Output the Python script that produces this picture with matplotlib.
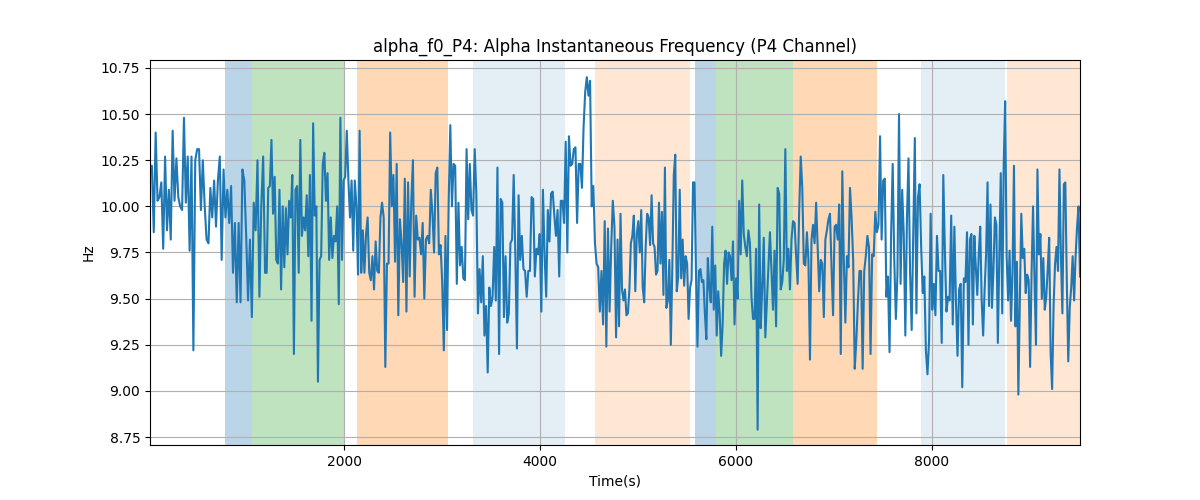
import numpy as np
import matplotlib
matplotlib.use("Agg")
import matplotlib.pyplot as plt

# === DATA ===
# time windows the readings were taken in (s); samples are evenly spaced inside each
seg_bounds = [20, 1194, 2388, 3582, 4776, 5969, 7163, 8357, 9510]

hz_a = [10.22, 10.22, 9.86, 10.40, 10.03, 10.05, 10.13, 9.77, 10.27, 9.87, 10.09, 9.82,
        10.41, 10.03, 10.26, 10.05, 10.00, 9.98, 10.48, 10.02, 10.27, 9.76, 10.27, 9.22,
        10.25, 10.31, 10.31, 9.98, 10.25, 10.00, 9.82, 9.80, 10.10, 9.94, 10.14, 9.89,
        10.14, 10.27, 9.71, 10.20, 9.94, 10.09, 9.91, 10.11, 9.64, 9.91, 9.48, 9.91,
        9.48, 10.20, 10.14, 9.84, 9.49, 9.82, 9.40, 10.02, 9.87, 10.25, 9.51, 10.00,
        10.27, 9.64]
hz_b = [9.64, 10.10, 10.11, 10.36, 9.96, 10.16, 9.71, 9.69, 10.09, 9.55, 10.00, 9.67,
        9.99, 9.74, 10.03, 9.94, 10.17, 9.20, 10.09, 10.11, 9.64, 10.36, 9.84, 9.94,
        9.87, 10.06, 9.73, 10.17, 9.38, 10.45, 9.95, 10.00, 9.05, 9.71, 9.73, 10.23,
        10.29, 10.03, 10.18, 9.71, 9.94, 9.72, 9.84, 9.81, 10.00, 9.47, 10.48, 9.71,
        10.14, 10.16, 10.41, 10.14, 9.94, 10.14, 9.76, 10.14, 10.00, 9.63, 10.41, 9.64,
        9.87, 9.64, 9.85, 9.94, 9.64, 9.60, 9.73, 9.55, 9.81, 9.65, 9.64, 9.94, 10.02]
hz_c = [9.94, 9.13, 9.69, 9.69, 10.40, 10.00, 10.17, 9.70, 10.23, 9.41, 9.93, 9.80,
        9.59, 10.15, 9.43, 10.13, 9.62, 10.03, 10.25, 9.51, 9.95, 9.82, 9.83, 9.74,
        9.91, 9.50, 9.82, 9.84, 9.80, 10.09, 9.96, 9.75, 10.18, 10.21, 9.74, 9.79,
        9.59, 9.22, 9.84, 9.33, 10.03, 10.44, 10.00, 10.23, 10.22, 9.58, 10.02, 9.68,
        9.78, 9.61, 9.60, 10.31, 9.93, 10.23, 9.98, 9.95, 10.31, 10.07, 9.42, 9.66,
        9.48, 9.73, 9.30, 9.46, 9.10, 9.56, 9.46, 9.51, 9.78, 9.49, 10.21, 9.20]
hz_d = [10.04, 10.02, 9.40, 9.73, 9.37, 9.42, 9.80, 9.82, 10.17, 9.74, 9.23, 10.06,
        9.71, 9.84, 9.66, 9.65, 9.51, 9.65, 9.65, 10.05, 10.04, 9.62, 9.77, 9.74,
        9.85, 9.43, 10.09, 9.74, 9.51, 9.98, 9.81, 10.07, 10.08, 9.95, 9.84, 9.98,
        9.62, 10.03, 10.03, 9.91, 10.35, 9.75, 10.38, 10.22, 10.23, 10.31, 10.32, 9.91,
        10.23, 10.23, 10.10, 10.43, 10.62, 10.70, 10.60, 10.68, 10.00, 10.11, 9.80, 9.69,
        9.67, 9.43, 9.65, 9.36, 9.92, 9.24, 9.88, 9.43, 9.78, 10.03, 9.89, 9.29]
hz_e = [9.82, 9.35, 9.96, 9.55, 9.49, 9.55, 9.41, 9.42, 9.55, 9.80, 9.84, 9.95,
        9.54, 9.85, 9.92, 9.75, 9.98, 9.56, 9.48, 9.78, 9.96, 9.94, 9.79, 10.06,
        9.80, 9.78, 9.63, 9.65, 10.02, 9.69, 9.97, 9.52, 10.21, 9.45, 9.49, 9.71,
        9.25, 9.67, 10.17, 10.28, 9.54, 9.62, 10.09, 9.61, 9.82, 9.57, 9.73, 9.69,
        9.39, 9.56, 9.60, 10.13, 10.13, 9.64, 9.24, 9.65, 9.66, 9.59, 9.60, 9.42,
        9.28, 9.72, 9.56, 9.48, 9.89, 9.44, 9.68, 9.30, 9.54, 9.42, 9.19, 9.36,
        9.69, 9.76, 9.58, 9.75, 9.73, 9.60, 9.81]
hz_f = [9.36, 9.61, 9.50, 10.03, 9.74, 10.14, 9.85, 9.78, 9.73, 9.87, 9.80, 9.51,
        9.39, 9.39, 9.77, 8.79, 10.01, 9.34, 9.56, 9.83, 9.29, 9.48, 9.67, 9.86,
        9.65, 9.44, 9.76, 9.35, 10.10, 10.07, 9.55, 9.59, 9.71, 10.31, 9.65, 9.77,
        9.55, 9.82, 9.92, 9.91, 9.73, 9.58, 9.98, 10.27, 10.10, 9.69, 9.68, 9.86,
        9.71, 9.17, 9.82, 9.90, 9.80, 10.02, 9.78, 9.54, 9.71, 9.69, 9.40, 9.82,
        9.87, 9.93, 9.96, 9.67, 9.41, 9.89, 9.90, 9.82, 10.01, 9.20, 10.19, 9.70,
        9.37, 9.73, 9.67, 10.10]
hz_g = [9.94, 9.71, 9.12, 9.27, 9.48, 9.65, 9.65, 9.12, 9.65, 9.73, 9.84, 9.78,
        9.20, 9.74, 9.73, 9.97, 9.86, 9.90, 10.38, 9.82, 10.14, 10.15, 9.51, 9.62,
        9.21, 9.85, 10.23, 9.71, 9.39, 9.63, 10.50, 9.58, 10.09, 9.85, 9.30, 9.93,
        10.26, 9.64, 9.33, 9.85, 10.37, 9.42, 10.05, 10.12, 9.78, 9.53, 9.62, 9.22,
        9.09, 9.27, 9.96, 9.44, 9.58, 9.41, 9.84, 9.65, 9.65, 9.26, 10.17, 9.76,
        9.43, 9.51, 9.49, 9.95, 9.36, 9.89, 9.49, 9.19, 9.55, 9.58, 9.02, 9.61,
        9.59, 9.86]
hz_h = [9.25, 9.82, 9.85, 9.36, 9.84, 9.67, 9.52, 9.74, 9.89, 9.49, 9.30, 9.55,
        9.74, 10.13, 9.46, 10.01, 9.45, 9.65, 9.94, 9.90, 9.26, 9.71, 10.18, 9.42,
        10.22, 10.57, 9.73, 9.49, 9.76, 9.38, 9.64, 10.22, 9.35, 9.70, 8.98, 9.49,
        9.96, 9.72, 9.77, 9.53, 9.63, 9.60, 9.13, 9.64, 10.00, 9.60, 9.25, 10.20,
        9.74, 9.85, 9.50, 9.72, 9.44, 9.51, 9.66, 9.83, 9.20, 9.01, 9.46, 9.69,
        9.78, 9.65, 10.20, 9.73, 9.42, 10.12, 10.13, 9.60, 9.16, 9.45, 9.56, 9.73,
        9.49, 9.73, 9.89, 10.00, 9.62]

# marked intervals (s) and their kind
span_start = [786, 1058, 2133, 3319, 4561, 5582, 5793, 6582, 7888, 8762]
span_end = [1058, 2003, 3058, 4255, 5531, 5793, 6582, 7436, 8748, 9600]
span_kind = ["A", "B", "C", "D", "E", "A", "B", "C", "D", "E"]

span_style = {
    "A": ("tab:blue", 0.3),
    "B": ("tab:green", 0.3),
    "C": ("tab:orange", 0.3),
    "D": ("tab:blue", 0.12),
    "E": ("tab:orange", 0.18),
}

# === BUILD SERIES ===
segments = [hz_a, hz_b, hz_c, hz_d, hz_e, hz_f, hz_g, hz_h]
times = []
for i, seg in enumerate(segments):
    b0, b1 = seg_bounds[i], seg_bounds[i + 1]
    if i == 0:
        t = np.linspace(b0, b1, len(seg))
    else:
        t = np.linspace(b0, b1, len(seg) + 1)[1:]
    times.append(t)
time_s = np.concatenate(times)
freq_hz = np.concatenate([np.asarray(s) for s in segments])

# === PLOTTING ===
fig, ax = plt.subplots(figsize=(12, 5), dpi=100)

for s, e, k in zip(span_start, span_end, span_kind):
    color, alpha = span_style[k]
    ax.axvspan(s, e, color=color, alpha=alpha, linewidth=0)

ax.plot(time_s, freq_hz, color="tab:blue", linewidth=1.5)

ax.set_xlim(time_s[0], time_s[-1])
ax.set_ylim(8.707, 10.793)
ax.set_title("alpha_f0_P4: Alpha Instantaneous Frequency (P4 Channel)")
ax.set_xlabel("Time(s)")
ax.set_ylabel("Hz")
ax.grid(True)

plt.savefig("out.png")
